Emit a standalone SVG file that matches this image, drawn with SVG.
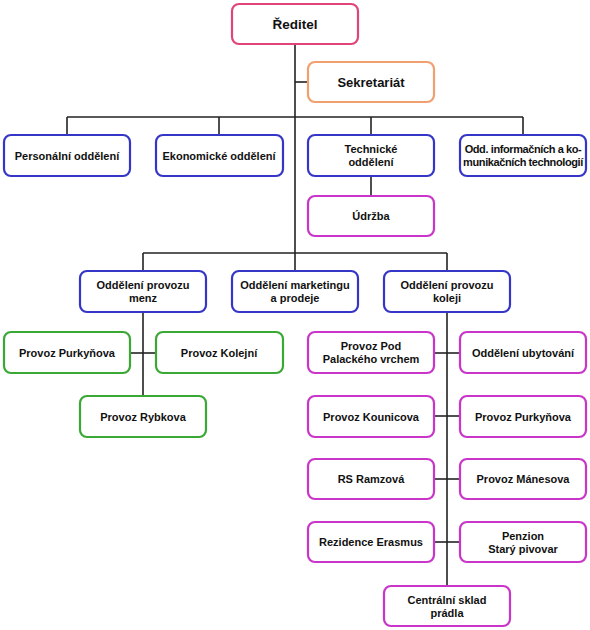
<svg xmlns="http://www.w3.org/2000/svg" width="590" height="630" viewBox="0 0 590 630">
<style>
rect{fill:#fff;stroke-width:2.2}
.r{stroke:#e0457a}.o{stroke:#f0a070}.b{stroke:#3535c8}.g{stroke:#3aa835}.m{stroke:#c935c9}
text{font-family:"Liberation Sans",Arial,sans-serif;font-weight:bold;font-size:11px;fill:#111;text-anchor:middle;dominant-baseline:central}
.c line{stroke:#222;stroke-width:1.6}
</style>
<rect x="0" y="0" width="590" height="630" fill="#fff" stroke="none"/>
<g class="c" id="connectors">
<line x1="295" y1="44" x2="295" y2="271"/>
<line x1="295" y1="82" x2="308" y2="82"/>
<line x1="67" y1="117" x2="523" y2="117"/>
<line x1="67" y1="117" x2="67" y2="135"/>
<line x1="219" y1="117" x2="219" y2="135"/>
<line x1="371" y1="117" x2="371" y2="135"/>
<line x1="523" y1="117" x2="523" y2="135"/>
<line x1="371" y1="176" x2="371" y2="196"/>
<line x1="143" y1="253" x2="447" y2="253"/>
<line x1="143" y1="253" x2="143" y2="271"/>
<line x1="447" y1="253" x2="447" y2="271"/>
<line x1="143" y1="312" x2="143" y2="396"/>
<line x1="130" y1="353" x2="155" y2="353"/>
<line x1="447" y1="312" x2="447" y2="586"/>
<line x1="434" y1="353" x2="459" y2="353"/>
<line x1="434" y1="416" x2="459" y2="416"/>
<line x1="434" y1="479" x2="459" y2="479"/>
<line x1="434" y1="542" x2="459" y2="542"/>
</g>
<g id="reditel"><rect class="r" x="232" y="4" width="126" height="40" rx="7"/><text x="295" y="24" style="font-size:13.5px">Ředitel</text></g>
<g id="sekretariat"><rect class="o" x="308" y="62" width="126" height="40" rx="7"/><text x="371" y="82" style="font-size:13px">Sekretariát</text></g>
<g id="personalni"><rect class="b" x="4" y="135" width="126" height="41" rx="7"/><text x="67" y="155.5">Personální oddělení</text></g>
<g id="ekonomicke"><rect class="b" x="156" y="135" width="127" height="41" rx="7"/><text x="219" y="155.5">Ekonomické oddělení</text></g>
<g id="technicke"><rect class="b" x="308" y="135" width="126" height="41" rx="7"/><text x="371" y="148.5">Technické</text><text x="371" y="162">oddělení</text></g>
<g id="ikt"><rect class="b" x="460" y="135" width="126" height="41" rx="7"/><text x="523" y="148.5" style="letter-spacing:-0.4px">Odd. informačních a ko-</text><text x="523" y="162" style="letter-spacing:-0.4px">munikačních technologií</text></g>
<g id="udrzba"><rect class="m" x="308" y="196" width="126" height="40" rx="7"/><text x="371" y="216">Údržba</text></g>
<g id="menz"><rect class="b" x="80" y="271" width="126" height="41" rx="7"/><text x="143" y="285">Oddělení provozu</text><text x="143" y="298">menz</text></g>
<g id="marketing"><rect class="b" x="232" y="271" width="126" height="41" rx="7"/><text x="295" y="285">Oddělení marketingu</text><text x="295" y="298">a prodeje</text></g>
<g id="koleji"><rect class="b" x="384" y="271" width="126" height="41" rx="7"/><text x="447" y="285">Oddělení provozu</text><text x="447" y="298">koleji</text></g>
<g id="m-purkynova"><rect class="g" x="4" y="332" width="126" height="41" rx="7"/><text x="67" y="352.5">Provoz Purkyňova</text></g>
<g id="m-kolejni"><rect class="g" x="156" y="332" width="127" height="41" rx="7"/><text x="219" y="352.5">Provoz Kolejní</text></g>
<g id="m-rybkova"><rect class="g" x="80" y="396" width="126" height="41" rx="7"/><text x="143" y="416.5">Provoz Rybkova</text></g>
<g id="k-pod"><rect class="m" x="308" y="332" width="126" height="41" rx="7"/><text x="371" y="345.5">Provoz Pod</text><text x="371" y="359">Palackého vrchem</text></g>
<g id="k-ubytovani"><rect class="m" x="460" y="332" width="126" height="41" rx="7"/><text x="523" y="352.5">Oddělení ubytování</text></g>
<g id="k-kounicova"><rect class="m" x="308" y="396" width="126" height="41" rx="7"/><text x="371" y="416.5">Provoz Kounicova</text></g>
<g id="k-purkynova"><rect class="m" x="460" y="396" width="126" height="41" rx="7"/><text x="523" y="416.5">Provoz Purkyňova</text></g>
<g id="k-ramzova"><rect class="m" x="308" y="459" width="126" height="40" rx="7"/><text x="371" y="479">RS Ramzová</text></g>
<g id="k-manesova"><rect class="m" x="460" y="459" width="126" height="40" rx="7"/><text x="523" y="479">Provoz Mánesova</text></g>
<g id="k-erasmus"><rect class="m" x="308" y="522" width="126" height="40" rx="7"/><text x="371" y="542">Rezidence Erasmus</text></g>
<g id="k-penzion"><rect class="m" x="460" y="522" width="126" height="40" rx="7"/><text x="523" y="535.5">Penzion</text><text x="523" y="549">Starý pivovar</text></g>
<g id="k-sklad"><rect class="m" x="384" y="586" width="126" height="40" rx="7"/><text x="447" y="599.5">Centrální sklad</text><text x="447" y="613">prádla</text></g>
</svg>
